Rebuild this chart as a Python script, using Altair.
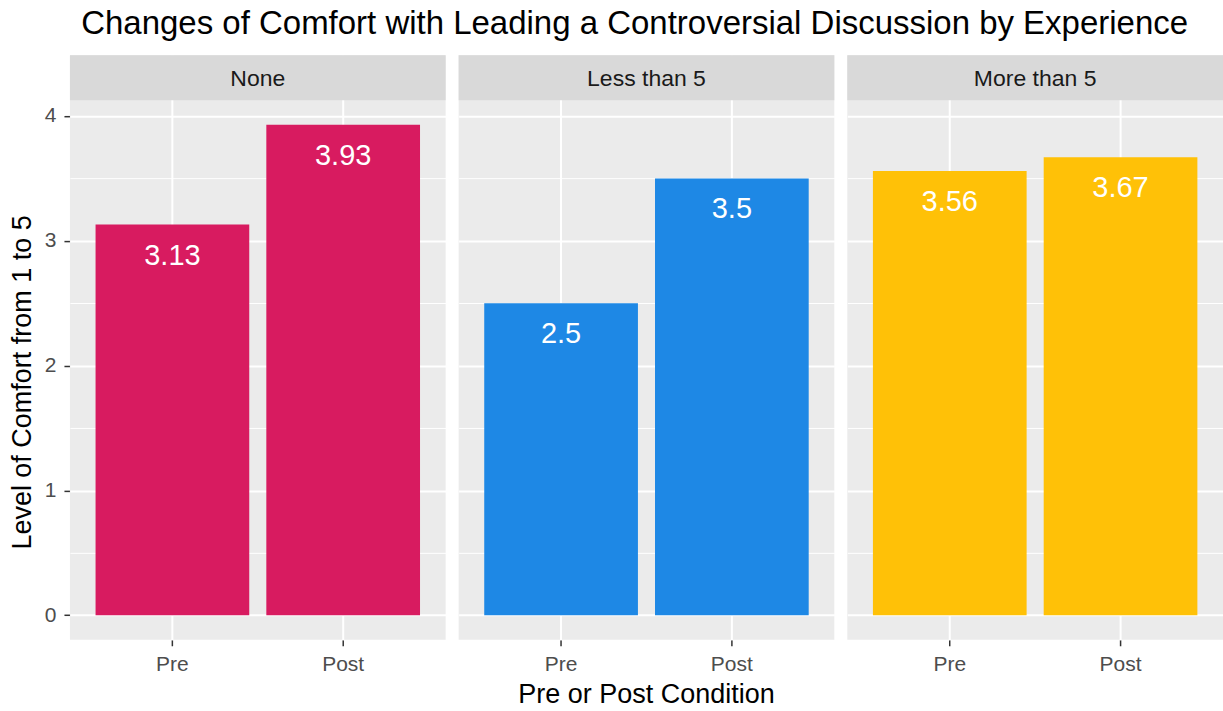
import altair as alt
import pandas as pd

# ---- data ----
experience_levels = ["None", "Less than 5", "More than 5"]
conditions = ["Pre", "Post"]
experience = ["None", "None", "Less than 5", "Less than 5", "More than 5", "More than 5"]
condition = ["Pre", "Post", "Pre", "Post", "Pre", "Post"]
comfort = [3.13, 3.93, 2.5, 3.5, 3.56, 3.67]
bar_colors = ["#D81B60", "#1E88E5", "#FFC107"]
y_all_breaks = [0, 0.5, 1, 1.5, 2, 2.5, 3, 3.5, 4]

df = pd.DataFrame({"Experience": experience, "Condition": condition, "Comfort": comfort})

FONT = "Liberation Sans"
PANEL_W = 376
PLOT_H = 540
STRIP_H = 45

# ggplot-like 5% expansion, plus room for the strip on top of each panel
ymax = max(comfort)
lo = -0.05 * ymax
hi = ymax + 0.05 * ymax
unit_per_px = (hi - lo) / PLOT_H
hi_with_strip = hi + STRIP_H * unit_per_px

x_enc = alt.X(
    "Condition:N",
    sort=conditions,
    scale=alt.Scale(paddingInner=0.1, paddingOuter=0.15),
    axis=alt.Axis(
        title=None,
        labelAngle=0,
        bandPosition=0.5,
        grid=True,
        gridColor="white",
        gridWidth=2,
        domain=False,
        tickColor="#333333",
        tickWidth=1.5,
        tickSize=6,
        labelFont=FONT,
        labelFontSize=21,
        labelColor="#4D4D4D",
        labelPadding=8,
    ),
)

y_enc = alt.Y(
    "Comfort:Q",
    scale=alt.Scale(domain=[lo, hi_with_strip], nice=False, zero=False),
    axis=alt.Axis(
        title="Level of Comfort from 1 to 5",
        titleFont=FONT,
        titleFontSize=27,
        titleFontWeight="normal",
        titleColor="black",
        titlePadding=8,
        titleY=STRIP_H + PLOT_H / 2 + 12,
        values=y_all_breaks,
        labelExpr="datum.value % 1 === 0 ? format(datum.value, 'd') : ''",
        labelOverlap=False,
        labelFont=FONT,
        labelFontSize=21,
        labelColor="#4D4D4D",
        labelPadding=8,
        grid=True,
        gridColor="white",
        gridWidth={"condition": {"test": "datum.value % 1 !== 0", "value": 1}, "value": 2},
        domain=False,
        tickColor="#333333",
        tickWidth=1.5,
        tickSize=6,
        tickOpacity={"condition": {"test": "datum.value % 1 !== 0", "value": 0}, "value": 1},
    ),
)

bars = alt.Chart().mark_bar().encode(
    x=x_enc,
    y=y_enc,
    color=alt.Color("Experience:N", scale=alt.Scale(domain=experience_levels, range=bar_colors), legend=None),
)

labels = alt.Chart().mark_text(
    color="white", font=FONT, fontSize=29, baseline="middle", dy=31
).encode(
    x=alt.X("Condition:N", sort=conditions),
    y=alt.Y("Comfort:Q"),
    text=alt.Text("Comfort:Q"),
)

strip = alt.Chart().transform_filter(alt.datum.Condition == "Pre").mark_rect(color="#D9D9D9").encode(
    x=alt.value(0), x2=alt.value(PANEL_W), y=alt.value(0), y2=alt.value(STRIP_H)
)

strip_text = alt.Chart().transform_filter(alt.datum.Condition == "Pre").mark_text(
    font=FONT, fontSize=23, color="#1A1A1A", baseline="middle"
).encode(
    x=alt.value(PANEL_W / 2), y=alt.value(STRIP_H / 2 + 1), text="Experience:N"
)

panel = alt.layer(bars, labels, strip, strip_text).properties(width=PANEL_W, height=PLOT_H + STRIP_H)

chart = panel.facet(
    data=df,
    column=alt.Column(
        "Experience:N",
        sort=experience_levels,
        header=alt.Header(
            labels=False,
            title="Pre or Post Condition",
            titleOrient="bottom",
            titleFont=FONT,
            titleFontSize=27,
            titleFontWeight="normal",
            titleColor="black",
            titlePadding=-3,
        ),
    ),
    spacing=13,
).properties(
    title=alt.TitleParams(
        "Changes of Comfort with Leading a Controversial Discussion by Experience",
        font=FONT,
        fontSize=33,
        fontWeight="normal",
        color="black",
        anchor="middle",
        offset=14,
        dx=19,
    ),
    padding={"left": 8, "top": 8, "right": 0, "bottom": 0},
    background="white",
).configure_view(
    fill="#EBEBEB", stroke=None
)

chart.save("out.html", embed_options={"renderer": "svg", "actions": False})
